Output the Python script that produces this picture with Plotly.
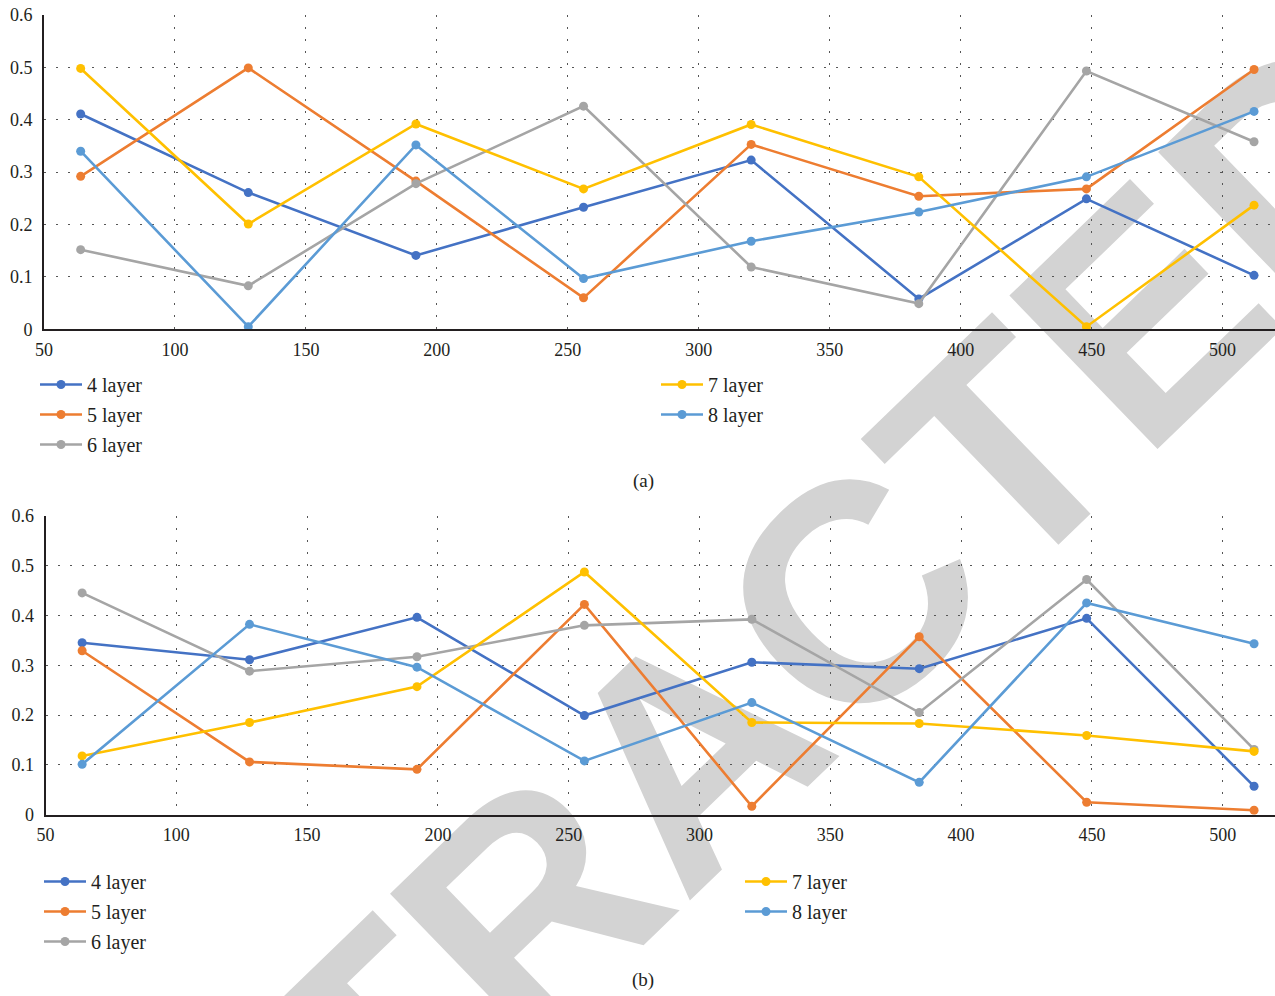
import plotly.graph_objects as go

# Sequence lengths on the x axis
x_vals = [64, 128, 192, 256, 320, 384, 448, 512]

series_names = ["4 layer", "5 layer", "6 layer", "7 layer", "8 layer"]
series_colors = ["#4472C4", "#ED7D31", "#A5A5A5", "#FFC000", "#5B9BD5"]

# Panel (a)
a_4layer = [0.411, 0.261, 0.141, 0.233, 0.323, 0.058, 0.249, 0.103]
a_5layer = [0.292, 0.499, 0.283, 0.060, 0.353, 0.254, 0.268, 0.496]
a_6layer = [0.152, 0.083, 0.278, 0.426, 0.119, 0.049, 0.493, 0.358]
a_7layer = [0.498, 0.201, 0.392, 0.268, 0.391, 0.291, 0.005, 0.237]
a_8layer = [0.340, 0.005, 0.352, 0.097, 0.168, 0.224, 0.291, 0.416]

# Panel (b)
b_4layer = [0.345, 0.311, 0.396, 0.199, 0.306, 0.293, 0.394, 0.057]
b_5layer = [0.329, 0.106, 0.091, 0.422, 0.017, 0.357, 0.025, 0.009]
b_6layer = [0.445, 0.288, 0.317, 0.380, 0.392, 0.205, 0.472, 0.131]
b_7layer = [0.118, 0.185, 0.257, 0.487, 0.185, 0.183, 0.159, 0.127]
b_8layer = [0.101, 0.382, 0.296, 0.108, 0.225, 0.065, 0.425, 0.343]

x_ticks = [50, 100, 150, 200, 250, 300, 350, 400, 450, 500]
y_ticks = [0, 0.1, 0.2, 0.3, 0.4, 0.5, 0.6]
y_tick_text = ["0", "0.1", "0.2", "0.3", "0.4", "0.5", "0.6"]

W, H = 1275, 996
SERIF = "Liberation Serif"
TEXT_COLOR = "#231f20"

fig = go.Figure()

panels = [
    ("x", "y", [a_4layer, a_5layer, a_6layer, a_7layer, a_8layer], ("legend", "legend2")),
    ("x2", "y2", [b_4layer, b_5layer, b_6layer, b_7layer, b_8layer], ("legend3", "legend4")),
]
for xa, ya, data, (leg_left, leg_right) in panels:
    for i, (name, color, vals) in enumerate(zip(series_names, series_colors, data)):
        fig.add_trace(go.Scatter(
            x=x_vals, y=vals, name=name, mode="lines+markers",
            line=dict(color=color, width=2.6),
            marker=dict(color=color, size=9),
            xaxis=xa, yaxis=ya,
            legend=leg_left if i < 3 else leg_right,
            legendgroup=f"{xa}-{name}",
        ))


def px_x(p):
    return p / W


def px_y(p):
    return 1 - p / H


axis_common = dict(
    showline=True, linecolor="#231f20", linewidth=2,
    showgrid=True, gridcolor="#555555", gridwidth=1.2, griddash="2px,10px",
    zeroline=False, ticks="", automargin=False,
    tickfont=dict(family=SERIF, size=18, color=TEXT_COLOR),
)

x_common = dict(axis_common, range=[50, 520], tickvals=x_ticks, ticklabelstandoff=3)
y_common = dict(axis_common, range=[0, 0.6], tickvals=y_ticks, ticktext=y_tick_text,
                ticklabelstandoff=6)

legend_common = dict(
    bgcolor="rgba(0,0,0,0)", borderwidth=0,
    font=dict(family=SERIF, size=20, color=TEXT_COLOR),
    xanchor="left", yanchor="top", tracegroupgap=1, itemwidth=42,
)

caption_font = dict(family=SERIF, size=19, color=TEXT_COLOR)

fig.update_layout(
    width=W, height=H,
    margin=dict(l=0, r=0, t=0, b=0),
    paper_bgcolor="white", plot_bgcolor="white",
    showlegend=True,
    xaxis=dict(x_common, domain=[px_x(44), 1.0], anchor="y"),
    yaxis=dict(y_common, domain=[px_y(329.3), px_y(15)], anchor="x"),
    xaxis2=dict(x_common, domain=[px_x(45.5), 1.0], anchor="y2"),
    yaxis2=dict(y_common, domain=[px_y(814.7), px_y(515.7)], anchor="x2"),
    legend=dict(legend_common, x=px_x(35), y=px_y(365)),
    legend2=dict(legend_common, x=px_x(656), y=px_y(365)),
    legend3=dict(legend_common, x=px_x(39), y=px_y(862)),
    legend4=dict(legend_common, x=px_x(740), y=px_y(862)),
    annotations=[
        dict(text="(a)", x=px_x(643), y=px_y(481), xref="paper", yref="paper",
             xanchor="center", yanchor="middle", showarrow=False, font=caption_font),
        dict(text="(b)", x=px_x(643), y=px_y(980), xref="paper", yref="paper",
             xanchor="center", yanchor="middle", showarrow=False, font=caption_font),
    ],
)

# Diagonal "RETRACTED" stamp, kept beneath the data
cx, cy = px_x(670), px_y(730)
fig.add_shape(
    type="rect", xref="paper", yref="paper",
    x0=cx - 0.005, x1=cx + 0.005, y0=cy - 0.005, y1=cy + 0.005,
    line=dict(width=0), fillcolor="rgba(0,0,0,0)", layer="below",
    label=dict(text="RETRACTED", textangle=-44, textposition="middle center",
               font=dict(family="Liberation Sans", size=310, color="#d3d3d3",
                         weight="bold")),
)

fig.write_html("out.html")
